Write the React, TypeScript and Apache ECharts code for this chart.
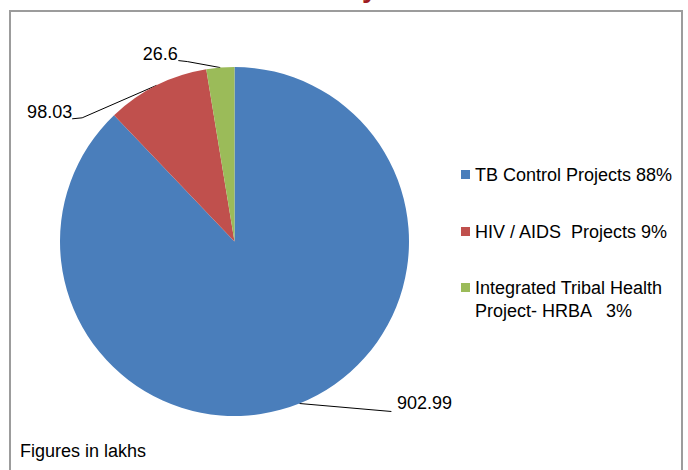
import React, { useEffect, useRef } from "react";
import * as echarts from "echarts";

// ---- data ----
const categories = [
  "TB Control Projects",
  "HIV / AIDS  Projects",
  "Integrated Tribal Health Project- HRBA",
];
const legendTexts = [
  "TB Control Projects",
  "HIV / AIDS  Projects",
  "Integrated Tribal Health\nProject- HRBA",
];
const values = [902.99, 98.03, 26.6];
const percentLabels = ["88%", "9%", "3%"];
const footnote = "Figures in lakhs";

// ---- styles ----
const colors = ["#4A7EBB", "#C0504D", "#9BBB59"];
const FONT = "'Liberation Sans', Arial, Helvetica, sans-serif";

// leader-line geometry relative to the slice edge point computed by ECharts
const leaderGeom = [
  { tx: 97.5, ty: 0, align: "left", ex: 92, ey: 8, lx: 92, ly: 8 },
  { tx: -84.5, ty: 26.5, align: "right", ex: -74.5, ey: 32.5, lx: -84.5, ly: 33.5 },
  { tx: -42.5, ty: -13.5, align: "right", ex: -33, ey: -6, lx: -42, ly: -7 },
];

const legendRows = [
  { top: 163, lead: "" },
  { top: 220, lead: "" },
  { top: 253, lead: "\n" },
];

export default function App() {
  const ref = useRef<HTMLDivElement>(null);

  useEffect(() => {
    if (!ref.current) return;
    const chart = echarts.init(ref.current, undefined, { renderer: "svg" });

    const data = categories.map((name, i) => ({
      name,
      value: values[i],
      itemStyle: { color: colors[i] },
    }));

    const legends = categories.map((name, i) => ({
      show: true,
      orient: "vertical",
      left: 461,
      top: legendRows[i].top,
      padding: 0,
      itemWidth: 9,
      itemHeight: 9,
      icon: "rect",
      selectedMode: false,
      data: [name],
      formatter: () =>
        legendRows[i].lead +
        legendTexts[i] +
        (i === 2 ? "   " : " ") +
        percentLabels[i],
      textStyle: {
        fontFamily: FONT,
        fontSize: 18,
        lineHeight: 23,
        color: "#000",
      },
    }));

    chart.setOption({
      animation: false,
      legend: legends,
      graphic: [
        {
          type: "rect",
          z: -10,
          shape: { x: 10, y: 11, width: 672, height: 480 },
          style: { fill: "#fff", stroke: "#9C9C9C", lineWidth: 2 },
          silent: true,
        },
        {
          type: "text",
          left: 362,
          top: -27,
          style: {
            text: "y",
            fontFamily: FONT,
            fontSize: 28,
            fontWeight: "bold",
            fill: "#9E1C22",
          },
          silent: true,
        },
        {
          type: "text",
          left: 20,
          top: 442,
          style: {
            text: footnote,
            fontFamily: FONT,
            fontSize: 18,
            fill: "#000",
          },
          silent: true,
        },
      ],
      series: [
        {
          type: "pie",
          center: [234.5, 241.5],
          radius: 174.5,
          startAngle: 90,
          clockwise: true,
          avoidLabelOverlap: false,
          emphasis: { disabled: true },
          itemStyle: { borderWidth: 0 },
          data,
          label: {
            show: true,
            position: "outside",
            formatter: (p: any) => String(p.value),
            fontFamily: FONT,
            fontSize: 18,
            color: "#000",
          },
          labelLine: {
            show: true,
            length: 20,
            length2: 10,
            lineStyle: { color: "#000", width: 1 },
          },
          labelLayout: (params: any) => {
            const pts = params.labelLinePoints;
            if (!pts) return {};
            const [px, py] = pts[0];
            const g = leaderGeom[params.dataIndex];
            return {
              x: px + g.tx,
              y: py + g.ty,
              align: g.align,
              verticalAlign: "middle",
              labelLinePoints: [
                [px, py],
                [px + g.ex, py + g.ey],
                [px + g.lx, py + g.ly],
              ],
            };
          },
        },
      ],
    });

    return () => chart.dispose();
  }, []);

  return (
    <div
      ref={ref}
      style={{ position: "fixed", left: 0, top: 0, width: 688, height: 470, background: "#fff" }}
    />
  );
}
